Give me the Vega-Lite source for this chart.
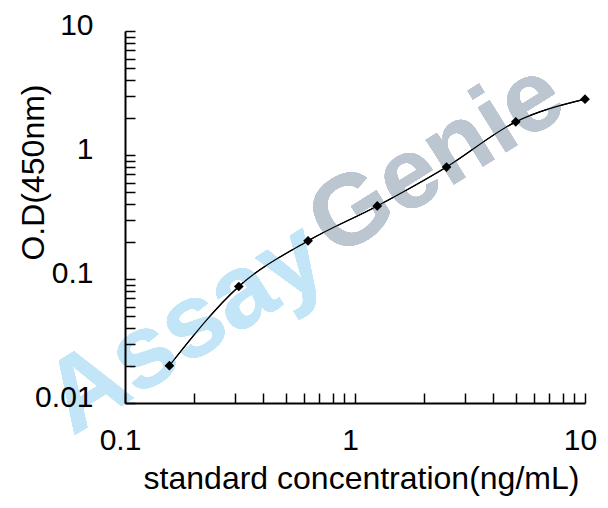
{
  "$schema": "https://vega.github.io/schema/vega-lite/v6.json",
  "width": 460,
  "height": 372,
  "autosize": {"type": "none"},
  "padding": {"left": 125, "top": 31, "right": 23, "bottom": 105},
  "background": "white",
  "config": {"view": {"stroke": null}},
  "data": {"values": [
    {"conc": 0.156, "od": 0.020},
    {"conc": 0.3125, "od": 0.087},
    {"conc": 0.625, "od": 0.203},
    {"conc": 1.25, "od": 0.388},
    {"conc": 2.5, "od": 0.80},
    {"conc": 5, "od": 1.85},
    {"conc": 10, "od": 2.82}
  ]},
  "layer": [
    {
      "mark": {"type": "line", "interpolate": "monotone", "color": "black", "strokeWidth": 1.2},
      "encoding": {
        "x": {"field": "conc", "type": "quantitative", "scale": {"type": "log", "domain": [0.1, 10]},
          "axis": {
            "title": "standard concentration(ng/mL)",
            "values": [0.1,0.2,0.3,0.4,0.5,0.6,0.7,0.8,0.9,1,2,3,4,5,6,7,8,9,10],
            "format": "~g",
            "labelExpr": "(datum.value == 0.1 || datum.value == 1 || datum.value == 10) ? datum.label : ''",
            "labelOverlap": false, "labelFlush": false, "zindex": 1,
            "grid": false, "domainColor": "black", "domainWidth": 2,
            "tickColor": "black", "tickWidth": 1.5, "tickSize": -10,
            "labelPadding": 32, "labelOffset": -5,
            "labelFont": "Liberation Sans", "labelFontSize": 30, "labelColor": "black",
            "titleFont": "Liberation Sans", "titleFontSize": 32, "titleFontWeight": "normal", "titleColor": "black",
            "titleX": 236, "titleY": 85, "titleAlign": "center", "titleBaseline": "alphabetic"
          }
        },
        "y": {"field": "od", "type": "quantitative", "scale": {"type": "log", "domain": [0.01, 10]},
          "axis": {
            "title": "O.D(450nm)",
            "values": [0.01,0.02,0.03,0.04,0.05,0.06,0.07,0.08,0.09,0.1,0.2,0.3,0.4,0.5,0.6,0.7,0.8,0.9,1,2,3,4,5,6,7,8,9,10],
            "format": "~g",
            "labelExpr": "(datum.value == 0.01 || datum.value == 0.1 || datum.value == 1 || datum.value == 10) ? datum.label : ''",
            "labelOverlap": false, "labelFlush": false, "zindex": 1,
            "grid": false, "domainColor": "black", "domainWidth": 2,
            "tickColor": "black", "tickWidth": 1.5, "tickSize": -10,
            "labelPadding": 42, "labelOffset": -6,
            "labelFont": "Liberation Sans", "labelFontSize": 30, "labelColor": "black",
            "titleFont": "Liberation Sans", "titleFontSize": 32, "titleFontWeight": "normal", "titleColor": "black",
            "titleX": -92, "titleY": 141, "titleAngle": -90, "titleAlign": "center", "titleBaseline": "middle"
          }
        }
      }
    },
    {
      "mark": {"type": "text", "text": "Assay", "angle": -32, "fontSize": 104, "font": "Liberation Sans", "fontWeight": "bold", "color": "#c2e6f7", "align": "center", "baseline": "middle"},
      "encoding": {
        "x": {"datum": 0.184, "type": "quantitative"},
        "y": {"datum": 0.0395, "type": "quantitative"}
      }
    },
    {
      "mark": {"type": "text", "text": "Genie", "angle": -32, "fontSize": 100, "font": "Liberation Sans", "fontWeight": "bold", "color": "#bcc6d1", "align": "center", "baseline": "middle"},
      "encoding": {
        "x": {"datum": 2.27, "type": "quantitative"},
        "y": {"datum": 0.912, "type": "quantitative"}
      }
    },
    {
      "mark": {"type": "line", "interpolate": "monotone", "color": "black", "strokeWidth": 1.2},
      "encoding": {
        "x": {"field": "conc", "type": "quantitative"},
        "y": {"field": "od", "type": "quantitative"}
      }
    },
    {
      "mark": {"type": "point", "shape": "diamond", "filled": true, "color": "black", "size": 95, "opacity": 1},
      "encoding": {
        "x": {"field": "conc", "type": "quantitative"},
        "y": {"field": "od", "type": "quantitative"}
      }
    }
  ]
}
